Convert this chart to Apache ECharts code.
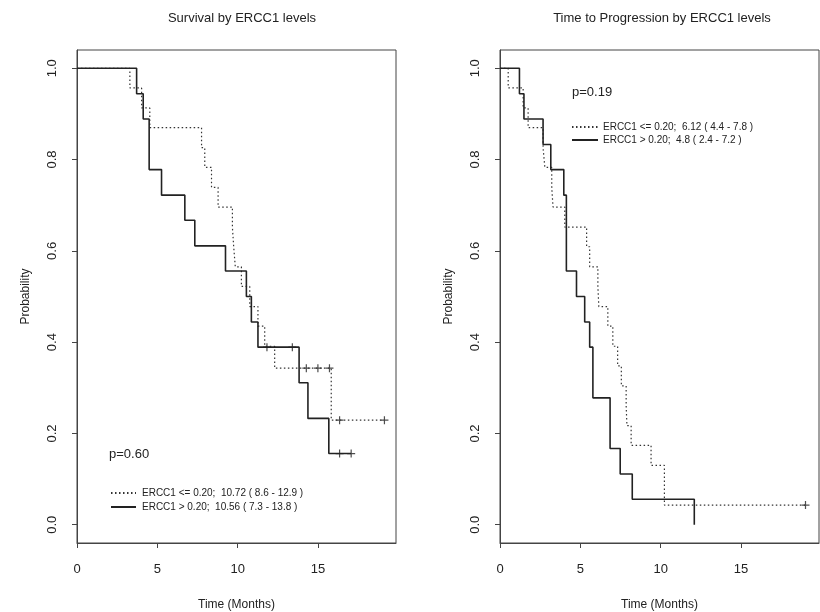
<!DOCTYPE html>
<html>
<head>
<meta charset="utf-8">
<script src="https://cdn.jsdelivr.net/npm/echarts@6/dist/echarts.min.js"></script>
<style>
html, body { margin: 0; padding: 0; background: #fff; }
#main { width: 820px; height: 612px; }
</style>
</head>
<body>
<div id="main"></div>
<script>
/* survival, ERCC1 <= 0.20 (dotted) */
var osLowT = [0, 3.29, 4.02, 4.53, 7.75, 7.95, 8.37, 8.78, 9.67, 9.75, 9.85, 10.23, 10.75, 11.26, 11.68, 12.3, 15.82, 19.13];
var osLowP = [1, 0.957, 0.913, 0.870, 0.826, 0.783, 0.739, 0.696, 0.652, 0.609, 0.565, 0.522, 0.478, 0.435, 0.391, 0.343, 0.229, 0.229];
var osLowCensT = [14.27, 14.99, 15.71, 16.34, 19.13];
var osLowCensP = [0.343, 0.343, 0.343, 0.229, 0.229];

/* survival, ERCC1 > 0.20 (solid) */
var osHighT = [0, 3.71, 4.12, 4.49, 5.26, 6.71, 7.33, 9.24, 10.54, 10.85, 11.26, 13.82, 14.37, 15.67, 17.06];
var osHighP = [1, 0.944, 0.889, 0.778, 0.722, 0.667, 0.611, 0.556, 0.5, 0.444, 0.389, 0.311, 0.233, 0.156, 0.156];
var osHighCensT = [11.82, 13.4, 16.34, 17.06];
var osHighCensP = [0.389, 0.389, 0.156, 0.156];

/* time to progression, ERCC1 <= 0.20 (dotted) */
var ttpLowT = [0, 0.51, 1.44, 1.75, 2.68, 2.79, 3.22, 3.3, 4.03, 5.39, 5.58, 6.09, 6.15, 6.71, 7.02, 7.32, 7.55, 7.85, 7.9, 8.16, 9.4, 10.23, 19.01];
var ttpLowP = [1, 0.957, 0.913, 0.870, 0.826, 0.783, 0.739, 0.696, 0.652, 0.609, 0.565, 0.522, 0.478, 0.435, 0.391, 0.348, 0.304, 0.261, 0.217, 0.174, 0.130, 0.043, 0.043];
var ttpLowCensT = [19.01];
var ttpLowCensP = [0.043];

/* time to progression, ERCC1 > 0.20 (solid) */
var ttpHighT = [0, 1.21, 1.49, 2.68, 3.16, 3.97, 4.13, 4.76, 5.27, 5.58, 5.78, 6.85, 7.48, 8.23, 12.09];
var ttpHighP = [1, 0.944, 0.889, 0.833, 0.778, 0.722, 0.556, 0.5, 0.444, 0.389, 0.278, 0.167, 0.111, 0.056, 0];

var legLeft = ['ERCC1 <= 0.20;  10.72 ( 8.6 - 12.9 )', 'ERCC1 > 0.20;  10.56 ( 7.3 - 13.8 )'];
var legRight = ['ERCC1 <= 0.20;  6.12 ( 4.4 - 7.8 )', 'ERCC1 > 0.20;  4.8 ( 2.4 - 7.2 )'];
var yTicks = [0, 0.2, 0.4, 0.6, 0.8, 1.0];
var xTicks = [0, 5, 10, 15];

var ink = '#222';
var font = 'Liberation Sans';

function zip(t, p) {
	var out = [];
	for (var i = 0; i < t.length; i++) out.push([t[i], p[i]]);
	return out;
}

var plusPath = 'path://M0,5L10,5M5,0L5,10';

function curve(name, t, p, idx, dotted) {
	return {
		name: name,
		type: 'line',
		step: 'end',
		xAxisIndex: idx,
		yAxisIndex: idx,
		data: zip(t, p),
		symbol: 'none',
		silent: true,
		color: ink,
		lineStyle: dotted ? { color: '#333', width: 1.2, type: [1.5, 2.5] } : { color: ink, width: 1.6 }
	};
}

function cens(t, p, idx) {
	return {
		type: 'scatter',
		xAxisIndex: idx,
		yAxisIndex: idx,
		data: zip(t, p),
		symbol: plusPath,
		symbolSize: 8,
		silent: true,
		itemStyle: { color: 'none', borderColor: ink, borderWidth: 1.2 }
	};
}

function xAxisFor(idx) {
	return {
		type: 'value', gridIndex: idx, min: 0, max: 19.85,
		name: 'Time (Months)', nameLocation: 'middle', nameGap: 56,
		nameTextStyle: { color: ink, fontSize: 12, fontFamily: font },
		axisLine: { show: true, onZero: false, lineStyle: { color: '#444', width: 1 } },
		axisTick: { show: true, length: 5, customValues: xTicks, lineStyle: { color: '#444' } },
		axisLabel: { customValues: xTicks, margin: 20, color: ink, fontSize: 13, fontFamily: font },
		splitLine: { show: false }
	};
}

function yAxisFor(idx) {
	return {
		type: 'value', gridIndex: idx, min: -0.04, max: 1.04,
		name: 'Probability', nameLocation: 'middle', nameGap: 45, nameRotate: 90,
		nameTextStyle: { color: ink, fontSize: 12, fontFamily: font },
		axisLine: { show: true, onZero: false, lineStyle: { color: '#444', width: 1 } },
		axisTick: { show: true, length: 5, customValues: yTicks, lineStyle: { color: '#444' } },
		axisLabel: { customValues: yTicks, rotate: 90, margin: 18, color: ink, fontSize: 13, fontFamily: font,
			formatter: function (v) { return v.toFixed(1); } },
		splitLine: { show: false }
	};
}

var gridBox = { show: true, borderColor: '#444', borderWidth: 1, backgroundColor: 'transparent',
	containLabel: false, outerBoundsMode: 'none' };

var option = {
	animation: false,
	backgroundColor: '#fff',
	title: [
		{ text: 'Survival by ERCC1 levels', left: 237, top: 7, textAlign: 'center',
			textStyle: { color: ink, fontSize: 13, fontWeight: 'normal', fontFamily: font } },
		{ text: 'Time to Progression by ERCC1 levels', left: 657, top: 7, textAlign: 'center',
			textStyle: { color: ink, fontSize: 13, fontWeight: 'normal', fontFamily: font } },
		{ text: 'p=0.60', left: 104, top: 443,
			textStyle: { color: ink, fontSize: 13, fontWeight: 'normal', fontFamily: font } },
		{ text: 'p=0.19', left: 567, top: 81,
			textStyle: { color: ink, fontSize: 13, fontWeight: 'normal', fontFamily: font } }
	],
	legend: [
		{ data: legLeft, orient: 'vertical', left: 105, top: 483, itemWidth: 25, itemHeight: 8, itemGap: 4,
			selectedMode: false, itemStyle: { opacity: 0 },
			textStyle: { color: ink, fontSize: 10, fontFamily: font, padding: [0, 0, 0, 1] } },
		{ data: legRight, orient: 'vertical', left: 566, top: 117, itemWidth: 26, itemHeight: 8, itemGap: 3,
			selectedMode: false, itemStyle: { opacity: 0 },
			textStyle: { color: ink, fontSize: 10, fontFamily: font, padding: [0, 0, 0, 0] } }
	],
	grid: [
		Object.assign({ left: 77, top: 50, width: 319, height: 493 }, gridBox),
		Object.assign({ left: 500, top: 50, width: 319, height: 493 }, gridBox)
	],
	xAxis: [xAxisFor(0), xAxisFor(1)],
	yAxis: [yAxisFor(0), yAxisFor(1)],
	series: [
		curve(legLeft[0], osLowT, osLowP, 0, true),
		curve(legLeft[1], osHighT, osHighP, 0, false),
		cens(osLowCensT, osLowCensP, 0),
		cens(osHighCensT, osHighCensP, 0),
		curve(legRight[0], ttpLowT, ttpLowP, 1, true),
		curve(legRight[1], ttpHighT, ttpHighP, 1, false),
		cens(ttpLowCensT, ttpLowCensP, 1)
	]
};

var chart = echarts.init(document.getElementById('main'));
chart.setOption(option);
</script>
</body>
</html>
